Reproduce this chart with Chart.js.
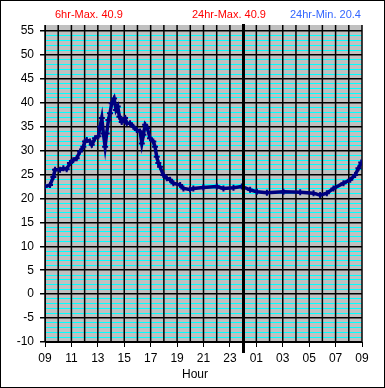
<!DOCTYPE html>
<html>
<head>
<meta charset="utf-8">
<script src="https://cdn.jsdelivr.net/npm/chart.js@4/dist/chart.umd.min.js"></script>
<style>
    html, body { margin: 0; padding: 0; background: #fff; }
    canvas { display: block; }
</style>
</head>
<body>
<canvas id="TempChart" width="385" height="388"></canvas>
<script>
// hours after 09:00
const Hours = [
    0.00, 0.38, 0.63, 0.76, 1.14, 1.39, 1.64, 1.89, 2.14, 2.40,
    2.65, 2.90, 3.03, 3.16, 3.41, 3.54, 3.79, 4.04, 4.17, 4.30,
    4.42, 4.55, 4.67, 4.80, 4.92, 5.05, 5.23, 5.38, 5.51, 5.63,
    5.81, 6.06, 6.19, 6.44, 6.69, 6.95, 7.20, 7.33, 7.45, 7.58,
    7.75, 7.95, 8.20, 8.33, 8.46, 8.58, 8.71, 8.96, 9.22, 9.47,
    9.72, 10.23, 10.48, 10.98, 11.23, 11.99, 13.01, 13.51, 14.27, 14.90,
    15.53, 16.04, 16.80, 18.05, 19.32, 20.33, 20.83, 21.34, 21.84, 22.60,
    23.11, 23.48, 23.73, 23.94
];
const Temps = [
    22.5, 22.8, 24.5, 26.0, 26.0, 26.3, 26.1, 27.4, 28.0, 28.4,
    29.8, 30.8, 31.9, 32.2, 31.9, 31.2, 32.6, 33.0, 35.0, 36.8,
    33.6, 30.8, 33.6, 36.4, 37.8, 39.9, 40.9, 38.5, 39.2, 37.1,
    36.0, 36.8, 35.7, 35.7, 35.0, 34.3, 34.0, 31.5, 33.3, 35.4,
    34.7, 32.6, 31.9, 30.8, 28.7, 27.4, 26.6, 24.9, 24.2, 23.9,
    23.2, 22.8, 22.1, 21.9, 22.1, 22.3, 22.5, 22.1, 22.25, 22.5,
    21.8, 21.4, 21.2, 21.4, 21.3, 21.1, 20.7, 21.1, 22.1, 23.2,
    23.9, 24.9, 26.3, 27.5
];
const StartHour = 9;
const YTicks = [];
for (let v = -10; v <= 55; v++) YTicks.push(v);
const XTicks = [];
for (let h = 0; h <= 24; h++) XTicks.push(h);
const MidnightHour = 15;
const Headers = [
    { text: "6hr-Max. 40.9", x: 55, color: "#ff0000" },
    { text: "24hr-Max. 40.9", x: 192, color: "#ff0000" },
    { text: "24hr-Min. 20.4", x: 290, color: "#3366ff" },
];

function pad2(n) {
    return (n < 10 ? "0" : "") + n;
}

const framePlugin = {
    id: "frame",
    beforeDraw(chart) {
        const { ctx, chartArea: a } = chart;
        ctx.save();
        ctx.fillStyle = "#c0c0c0";
        ctx.fillRect(a.left, a.top, a.right - a.left, a.bottom - a.top);
        ctx.restore();
    },
    beforeDatasetsDraw(chart) {
        // hourly vertical grid
        const { ctx, chartArea: a } = chart;
        const xs = chart.scales.x;
        ctx.save();
        ctx.strokeStyle = "#000";
        ctx.lineWidth = 1.5;
        for (let h of XTicks) {
            const x = xs.getPixelForValue(h);
            ctx.beginPath();
            ctx.moveTo(x, a.top);
            ctx.lineTo(x, a.bottom);
            ctx.stroke();
        }
        ctx.restore();
    },
    afterDraw(chart) {
        const { ctx, chartArea: a } = chart;
        const x = Math.round(chart.scales.x.getPixelForValue(MidnightHour));
        ctx.save();
        // midnight line, thicker and sticking out of the plot
        ctx.fillStyle = "#000";
        ctx.fillRect(x - 1, a.top - 1, 3, a.bottom - a.top + 12);
        // headers
        ctx.font = "11px 'Liberation Sans', Arial, sans-serif";
        ctx.textBaseline = "middle";
        for (let h of Headers) {
            ctx.fillStyle = h.color;
            ctx.fillText(h.text, h.x, 15);
        }
        ctx.fillStyle = "#000";
        ctx.font = "12px 'Liberation Sans', Arial, sans-serif";
        ctx.textAlign = "center";
        ctx.fillText("Hour", 195, 375);
        // outer border
        ctx.strokeStyle = "#000";
        ctx.lineWidth = 1;
        ctx.strokeRect(0.5, 0.5, chart.width - 1, chart.height - 1);
        ctx.restore();
    }
};

Chart.defaults.font.family = "'Liberation Sans', Arial, sans-serif";
Chart.defaults.font.size = 12;
Chart.defaults.color = "#000";

new Chart(document.getElementById("TempChart"), {
    type: "line",
    data: {
        datasets: [{
            data: Hours.map((h, i) => ({ x: h, y: Temps[i] })),
            borderColor: "#000080",
            backgroundColor: "#000080",
            borderWidth: 3.5,
            pointStyle: "cross",
            pointRadius: 3,
            pointBorderWidth: 2,
            tension: 0,
        }]
    },
    options: {
        responsive: false,
        animation: false,
        devicePixelRatio: 1,
        layout: { padding: { top: 25, right: 23, left: 0, bottom: 0 } },
        plugins: {
            legend: { display: false },
            tooltip: { enabled: false },
        },
        scales: {
            x: {
                type: "linear",
                min: 0,
                max: 24,
                afterBuildTicks: s => { s.ticks = XTicks.map(v => ({ value: v })); },
                afterFit: s => { s.height = 46; },
                grid: {
                    drawOnChartArea: false,
                    tickColor: c => (c.tick && c.tick.value % 2 === 0) ? "#000" : "rgba(0,0,0,0)",
                    tickLength: 5,
                },
                border: { color: "#000" },
                ticks: {
                    autoSkip: false,
                    maxRotation: 0,
                    padding: 4,
                    callback: v => v % 2 === 0 ? pad2((StartHour + v) % 24) : "",
                },
            },
            y: {
                min: -10,
                max: 56.25,
                afterBuildTicks: s => { s.ticks = YTicks.map(v => ({ value: v })); },
                afterFit: s => { s.width = 45; },
                grid: {
                    color: c => (c.tick && c.tick.value % 5 === 0) ? "#000" : "#00ffff",
                    lineWidth: c => (c.tick && c.tick.value % 5 === 0) ? 1.5 : 1,
                    tickColor: c => (c.tick && c.tick.value % 5 === 0) ? "#000" : "rgba(0,0,0,0)",
                    tickLength: 5,
                },
                border: { color: "#000" },
                ticks: {
                    autoSkip: false,
                    padding: 6,
                    callback: v => v % 5 === 0 ? v : "",
                },
            },
        },
    },
    plugins: [framePlugin],
});
</script>
</body>
</html>
